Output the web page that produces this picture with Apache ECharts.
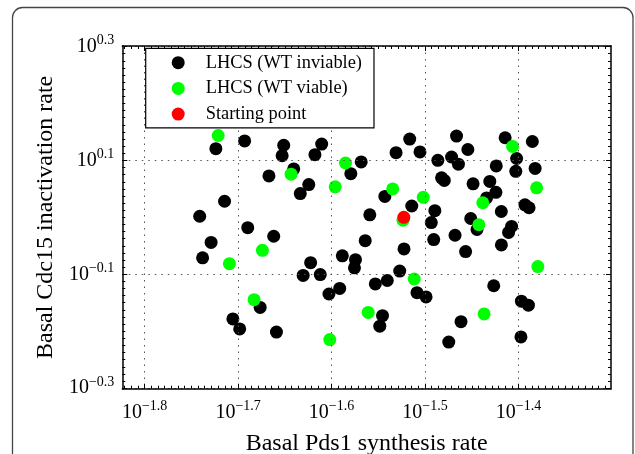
<!DOCTYPE html>
<html><head><meta charset="utf-8">
<script src="https://cdn.jsdelivr.net/npm/echarts@6/dist/echarts.min.js"></script>
<style>html,body{margin:0;padding:0;background:#fff}#c{width:635px;height:454px}</style>
</head><body><div id="c"></div>
<script>
// Axis limits (actual rates) and major tick exponents (log10)
const xLimits = [0.015, 0.05];
const yLimits = [0.5, 2];
const xTickExps = [-1.8, -1.7, -1.6, -1.5, -1.4];
const yTickExps = [-0.3, -0.1, 0.1, 0.3];
const xTitle = 'Basal Pds1 synthesis rate';
const yTitle = 'Basal Cdc15 inactivation rate';
const seriesNames = ['LHCS (WT inviable)', 'LHCS (WT viable)', 'Starting point'];

// Data as log10 exponents
const inviableLogX = [-1.7238,-1.6930,-1.6512,-1.6529,-1.6405,-1.6670,-1.6244,-1.6335,-1.7145,-1.7411,-1.6897,-1.6106,-1.6178,-1.5683,-1.5794,-1.5164,-1.5310,-1.5054,-1.4863,-1.4716,-1.4643,-1.4823,-1.4794,-1.4663,-1.4542,-1.4486,-1.4307,-1.4238,-1.4143,-1.4020,-1.4029,-1.3852,-1.3822,-1.3931,-1.3887,-1.4184,-1.4242,-1.4342,-1.5430,-1.5142,-1.5591,-1.4895,-1.4933,-1.4511,-1.4444,-1.4074,-1.4106,-1.6619,-1.7289,-1.7380,-1.6224,-1.6304,-1.6121,-1.6764,-1.7056,-1.6983,-1.6590,-1.5640,-1.5885,-1.5744,-1.5755,-1.5913,-1.6028,-1.5225,-1.5271,-1.5532,-1.5404,-1.5086,-1.4989,-1.5455,-1.5484,-1.4907,-1.4679,-1.4566,-1.4183,-1.4265,-1.3969,-1.3894,-1.4615,-1.4746,-1.3974];
const inviableLogY = [0.1206,0.1342,0.1267,0.1083,0.0850,0.0728,0.0575,0.0418,0.0283,0.0019,-0.0181,0.1288,0.1101,0.0974,0.0768,0.1375,0.1136,0.1150,0.1001,0.1060,0.0934,0.0694,0.0649,0.1428,0.1192,0.0589,0.0631,0.0904,0.1398,0.1034,0.0808,0.1333,0.0859,0.0220,0.0169,0.0103,0.0440,0.0342,0.0367,0.0199,0.0045,0.0117,-0.0092,-0.0020,-0.0213,-0.0160,-0.0265,-0.0332,-0.0440,-0.0711,-0.0796,-0.1021,-0.1006,-0.1583,-0.1785,-0.1960,-0.2016,-0.0410,-0.0676,-0.0743,-0.0887,-0.1249,-0.1347,-0.0554,-0.0944,-0.1170,-0.1109,-0.1324,-0.1398,-0.1727,-0.1911,-0.0391,-0.0314,-0.0601,-0.0484,-0.1202,-0.1473,-0.1543,-0.1832,-0.2191,-0.2100];
const viableLogX = [-1.7213,-1.6433,-1.5851,-1.5961,-1.5346,-1.5019,-1.4063,-1.3806,-1.4382,-1.5236,-1.4424,-1.6740,-1.7093,-1.6829,-1.5116,-1.5608,-1.6019,-1.3793,-1.4368];
const viableLogY = [0.1438,0.0759,0.0955,0.0537,0.0500,0.0351,0.1246,0.0518,0.0257,-0.0051,-0.0130,-0.0580,-0.0813,-0.1447,-0.1083,-0.1671,-0.2147,-0.0864,-0.1697];
const startLogX = [-1.5227];
const startLogY = [0.0];

const colors = ['#000000', '#00ff00', '#ff0000'];
const FONT = "'Liberation Serif','DejaVu Serif',serif";

const xMin = Math.log10(xLimits[0]), xMax = Math.log10(xLimits[1]);
const yMin = Math.log10(yLimits[0]), yMax = Math.log10(yLimits[1]);

function minorValues(lo, hi, anchor, step) {
  const out = [];
  const kStart = Math.ceil((lo - anchor) / step - 1e-9);
  for (let k = kStart; anchor + k * step <= hi + 1e-9; k++) out.push(anchor + k * step);
  return out;
}
const xMinor = minorValues(xMin, xMax, -1.8, 0.1 / 14);
const yMinor = minorValues(yMin, yMax, -0.3, 0.2 / 16);

const zip = (a, b) => a.map((v, i) => [v, b[i]]);
const fmt = v => '{b|10}{s|' + Number(v).toFixed(1).replace('-', '\u2212') + '}';
const rich = {
  b: { fontFamily: FONT, fontSize: 20, lineHeight: 26, color: '#000' },
  s: { fontFamily: FONT, fontSize: 14, lineHeight: 10, verticalAlign: 'top', color: '#000' }
};
const gridLine = { show: true, lineStyle: { color: '#555', width: 1, type: [1.5, 5] } };
const boxLine = { show: true, onZero: false, lineStyle: { color: '#000', width: 1.5 } };

function mainAxis(kind, pos, ticks, withLabels, lim) {
  return {
    type: 'value', position: pos, min: lim[0], max: lim[1],
    axisLine: boxLine,
    axisTick: { show: true, inside: true, length: 5, customValues: ticks, lineStyle: { color: '#000', width: 1 } },
    axisLabel: withLabels ? { show: true, customValues: ticks, formatter: fmt, rich: rich, margin: kind === 'x' ? 11 : 8 } : { show: false },
    splitLine: withLabels ? gridLine : { show: false },
    z: 5
  };
}
function minorAxis(pos, vals, lim) {
  return {
    type: 'value', position: pos, min: lim[0], max: lim[1],
    axisLine: { show: false, onZero: false },
    axisTick: { show: true, inside: true, length: 3, customValues: vals, lineStyle: { color: '#000', width: 1 } },
    axisLabel: { show: false }, splitLine: { show: false }
  };
}

const xAxes = [
  Object.assign(mainAxis('x', 'bottom', xTickExps, true, [xMin, xMax]), {
    name: xTitle, nameLocation: 'middle', nameGap: 43,
    nameTextStyle: { fontFamily: FONT, fontSize: 24, color: '#000' }
  }),
  mainAxis('x', 'top', xTickExps, false, [xMin, xMax]),
  minorAxis('bottom', xMinor, [xMin, xMax]),
  minorAxis('top', xMinor, [xMin, xMax])
];
const yAxes = [
  Object.assign(mainAxis('y', 'left', yTickExps, true, [yMin, yMax]), {
    name: yTitle, nameLocation: 'middle', nameGap: 52,
    nameTextStyle: { fontFamily: FONT, fontSize: 24, color: '#000' }
  }),
  mainAxis('y', 'right', yTickExps, false, [yMin, yMax]),
  minorAxis('left', yMinor, [yMin, yMax]),
  minorAxis('right', yMinor, [yMin, yMax])
];

const chart = echarts.init(document.getElementById('c'), null, { renderer: 'canvas' });
chart.setOption({
  animation: false,
  backgroundColor: '#fff',
  grid: { left: 122.3, right: 24, top: 46, bottom: 65.3, containLabel: false, outerBoundsMode: 'none' },
  xAxis: xAxes,
  yAxis: yAxes,
  legend: {
    show: true, orient: 'vertical', left: 145.7, top: 48.3,
    padding: [5.4, 12, 4.7, 26], itemGap: 7.7, itemWidth: 45, itemHeight: 13,
    icon: 'circle', selectedMode: false,
    backgroundColor: '#fff', borderColor: '#000', borderWidth: 1.2, borderRadius: 0,
    textStyle: { fontFamily: FONT, fontSize: 18.4, color: '#000' },
    data: seriesNames, z: 10
  },
  graphic: [{
    type: 'rect', silent: true, z: -1,
    shape: { x: 12.5, y: 7.5, width: 620.5, height: 480, r: 10 },
    style: { fill: 'none', stroke: '#444', lineWidth: 1.3 }
  }],
  series: [
    { name: seriesNames[0], type: 'scatter', symbol: 'circle', symbolSize: 13, xAxisIndex: 0, yAxisIndex: 0,
      itemStyle: { color: colors[0], opacity: 1 }, data: zip(inviableLogX, inviableLogY) },
    { name: seriesNames[1], type: 'scatter', symbol: 'circle', symbolSize: 13, xAxisIndex: 0, yAxisIndex: 0,
      itemStyle: { color: colors[1], opacity: 1 }, data: zip(viableLogX, viableLogY) },
    { name: seriesNames[2], type: 'scatter', symbol: 'circle', symbolSize: 13, xAxisIndex: 0, yAxisIndex: 0,
      itemStyle: { color: colors[2], opacity: 1 }, data: zip(startLogX, startLogY) }
  ]
});
</script></body></html>
